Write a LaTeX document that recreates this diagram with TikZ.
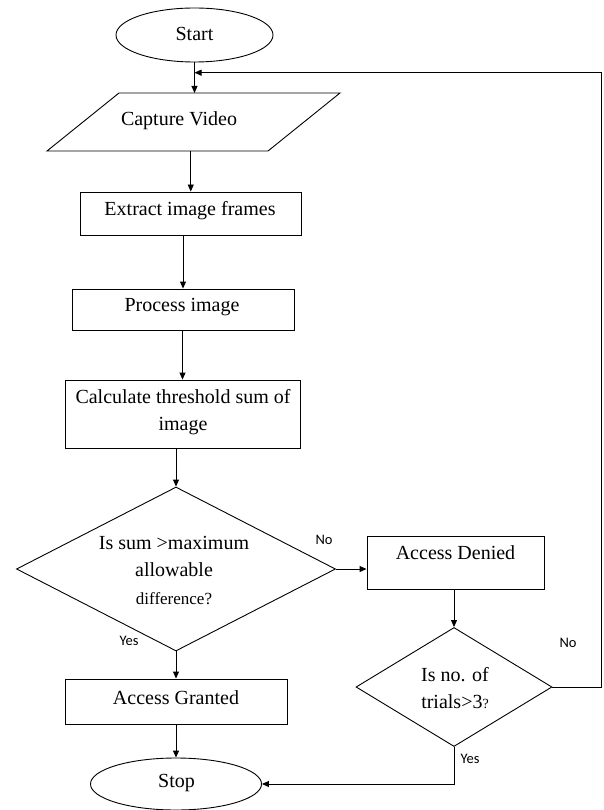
\documentclass[tikz,border=0pt]{standalone}
\usepackage{fontspec}
\setmainfont{Liberation Serif}
\newfontfamily\lblfont{Carlito}
\usetikzlibrary{shapes.geometric,arrows.meta}
\begin{document}
\begin{tikzpicture}[x=1pt,y=-1pt,
  line width=0.9pt,
  box/.style={draw, rectangle, inner sep=0},
  oval/.style={draw, ellipse, inner sep=0},
  dia/.style={draw, diamond, inner sep=0},
  txt/.style={inner sep=0, font=\fontsize{20}{27.5}\selectfont, align=center},
  lbl/.style={inner sep=0, font=\lblfont\fontsize{14.5}{16}\selectfont},
  arr/.style={-{Triangle[length=7pt,width=6pt]}}]
\useasboundingbox (0,0) rectangle (603,810);

% Start
\node[oval, minimum width=157, minimum height=54] (start) at (194.5,35) {};
\node[txt] (starttxt) at (194.5,34) {Start};

% Capture Video (parallelogram)
\coordinate (capTL) at (119,93);
\coordinate (capTR) at (340,93);
\coordinate (capBR) at (268,151);
\coordinate (capBL) at (47,151);
\draw (capTL) -- (capTR) -- (capBR) -- (capBL) -- cycle;
\node[txt] (cap) at (179,121) {Capture Video};

% Boxes
\node[box, minimum width=221.5, minimum height=43] (extract) at (190.75,213.5) {};
\node[txt] (extracttxt) at (190,211) {Extract image frames};

\node[box, minimum width=222, minimum height=41] (process) at (183,309.5) {};
\node[txt] (processtxt) at (182,307) {Process image};

\node[box, minimum width=235, minimum height=68] (calc) at (182.5,414) {};
\node[txt] (calctxt) at (183,412) {Calculate threshold sum of\\image};

% Decision 1
\node[dia, minimum width=319, minimum height=164] (d1) at (176,569) {};
\node[txt] (d1txt) at (174,570) {Is sum >maximum\\allowable\\{\fontsize{17}{20}\selectfont difference?}};

% Access Denied
\node[box, minimum width=177.5, minimum height=53] (deny) at (455.75,562.5) {};
\node[txt] (denytxt) at (455.5,553) {Access Denied};

% Decision 2
\node[dia, minimum width=196, minimum height=119] (d2) at (454,687) {};
\node[txt] (d2txt) at (455,688) {Is no. of\\trials>3{\fontsize{14}{16}\selectfont ?}};

% Access Granted
\node[box, minimum width=222, minimum height=45] (grant) at (176,701.5) {};
\node[txt] (granttxt) at (176,698) {Access Granted};

% Stop
\node[oval, minimum width=171, minimum height=52] (stop) at (176,784) {};
\node[txt] (stoptxt) at (176.5,783) {Stop};

% Labels
\node[lbl] (no1) at (324,540) {No};
\node[lbl] (yes1) at (129,641) {Yes};
\node[lbl] (no2) at (568,643) {No};
\node[lbl] (yes2) at (470,759) {Yes};

% Connectors
\coordinate (loopR) at (601.5,72.7);
\draw[arr] (start.south) -- (start.south |- capTL);
\draw[arr] (extract.north |- capBL) -- (extract.north);
\draw[arr] (process.north |- extract.south) -- (process.north);
\draw[arr] (calc.north |- process.south) -- (calc.north);
\draw[arr] (d1.north |- calc.south) -- (d1.north);
\draw[arr] (d1.east) -- (d1.east -| deny.west);
\draw[arr] (d2.north |- deny.south) -- (d2.north);
\draw[arr] (d2.east) -| (loopR) -- (start.south |- loopR);
\draw[arr] (d2.south) |- (stop.east);
\draw[arr] (d1.south) -- (grant.north);
\draw[arr] (grant.south) -- (stop.north);
\end{tikzpicture}
\end{document}
